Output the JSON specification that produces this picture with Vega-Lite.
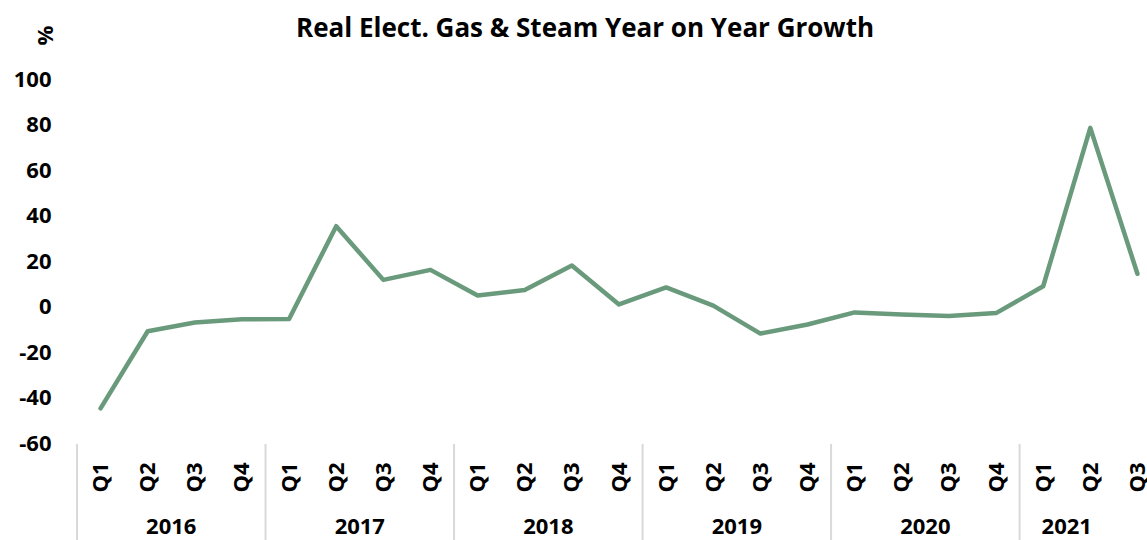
{
  "$schema": "https://vega.github.io/schema/vega-lite/v6.json",
  "width": 1084,
  "height": 364,
  "autosize": {"type": "none"},
  "padding": {"left": 77, "top": 79, "right": 0, "bottom": 97},
  "background": "white",
  "config": {"view": {"stroke": null}, "font": "Open Sans"},
  "title": {
    "text": "Real Elect. Gas & Steam Year on Year Growth",
    "font": "Open Sans",
    "fontSize": 26,
    "fontWeight": "bold",
    "color": "#000000",
    "anchor": "middle",
    "frame": "group",
    "dx": -34,
    "offset": -17
  },
  "datasets": {
    "series": [
      {"idx": 0, "year": "2016", "quarter": "Q1", "value": -44.8},
      {"idx": 1, "year": "2016", "quarter": "Q2", "value": -10.9},
      {"idx": 2, "year": "2016", "quarter": "Q3", "value": -7.0},
      {"idx": 3, "year": "2016", "quarter": "Q4", "value": -5.6},
      {"idx": 4, "year": "2017", "quarter": "Q1", "value": -5.5},
      {"idx": 5, "year": "2017", "quarter": "Q2", "value": 35.3},
      {"idx": 6, "year": "2017", "quarter": "Q3", "value": 11.7},
      {"idx": 7, "year": "2017", "quarter": "Q4", "value": 16.1},
      {"idx": 8, "year": "2018", "quarter": "Q1", "value": 4.8},
      {"idx": 9, "year": "2018", "quarter": "Q2", "value": 7.3},
      {"idx": 10, "year": "2018", "quarter": "Q3", "value": 18.0},
      {"idx": 11, "year": "2018", "quarter": "Q4", "value": 0.9},
      {"idx": 12, "year": "2019", "quarter": "Q1", "value": 8.4},
      {"idx": 13, "year": "2019", "quarter": "Q2", "value": 0.4},
      {"idx": 14, "year": "2019", "quarter": "Q3", "value": -11.9},
      {"idx": 15, "year": "2019", "quarter": "Q4", "value": -7.9},
      {"idx": 16, "year": "2020", "quarter": "Q1", "value": -2.6},
      {"idx": 17, "year": "2020", "quarter": "Q2", "value": -3.5},
      {"idx": 18, "year": "2020", "quarter": "Q3", "value": -4.2},
      {"idx": 19, "year": "2020", "quarter": "Q4", "value": -2.9},
      {"idx": 20, "year": "2021", "quarter": "Q1", "value": 8.9},
      {"idx": 21, "year": "2021", "quarter": "Q2", "value": 78.5},
      {"idx": 22, "year": "2021", "quarter": "Q3", "value": 14.4}
    ],
    "years": [
      {"pos": 1.5, "year": "2016"},
      {"pos": 5.5, "year": "2017"},
      {"pos": 9.5, "year": "2018"},
      {"pos": 13.5, "year": "2019"},
      {"pos": 17.5, "year": "2020"},
      {"pos": 20.5, "year": "2021"}
    ],
    "separators": [
      {"pos": -0.5}, {"pos": 3.5}, {"pos": 7.5}, {"pos": 11.5}, {"pos": 15.5}, {"pos": 19.5}
    ]
  },
  "layer": [
    {
      "mark": {"type": "rule", "color": "#d9d9d9", "strokeWidth": 2},
      "encoding": {
        "y": {"datum": 0, "type": "quantitative"}
      }
    },
    {
      "data": {"name": "separators"},
      "mark": {"type": "rule", "color": "#d9d9d9", "strokeWidth": 2},
      "encoding": {
        "x": {"field": "pos", "type": "quantitative"},
        "y": {"datum": -60.4, "type": "quantitative"},
        "y2": {"datum": -103}
      }
    },
    {
      "data": {"name": "years"},
      "mark": {"type": "text", "font": "Open Sans", "fontSize": 22, "fontWeight": "bold", "color": "#000000", "baseline": "middle", "align": "center", "dy": 84},
      "encoding": {
        "x": {"field": "pos", "type": "quantitative"},
        "y": {"datum": -60, "type": "quantitative"},
        "text": {"field": "year"}
      }
    },
    {
      "data": {"name": "series"},
      "mark": {"type": "line", "color": "#6a9a7c", "strokeWidth": 4.5, "strokeCap": "round", "strokeJoin": "round"},
      "encoding": {
        "x": {
          "field": "idx",
          "type": "quantitative",
          "scale": {"domain": [-0.5, 22.5], "nice": false, "zero": false},
          "axis": {
            "values": [0,1,2,3,4,5,6,7,8,9,10,11,12,13,14,15,16,17,18,19,20,21,22],
            "labelExpr": "['Q1','Q2','Q3','Q4'][datum.value % 4]",
            "labelAngle": 270,
            "labelAlign": "right",
            "labelBaseline": "middle",
            "labelPadding": 19,
            "labelFont": "Open Sans",
            "labelFontSize": 22,
            "labelFontWeight": "bold",
            "labelColor": "#000000",
            "labelOverlap": false,
            "labelFlush": false,
            "ticks": false,
            "domain": false,
            "grid": false,
            "title": null
          }
        },
        "y": {
          "field": "value",
          "type": "quantitative",
          "scale": {"domain": [-60, 100], "nice": false, "zero": false},
          "axis": {
            "values": [-60, -40, -20, 0, 20, 40, 60, 80, 100],
            "labelExpr": "'' + datum.value",
            "labelFont": "Open Sans",
            "labelFontSize": 22,
            "labelFontWeight": "bold",
            "labelColor": "#000000",
            "labelPadding": 26,
            "ticks": false,
            "domain": false,
            "grid": false,
            "title": "%",
            "titleFont": "Open Sans",
            "titleFontSize": 22,
            "titleFontWeight": "bold",
            "titleColor": "#000000",
            "titleAngle": 270,
            "titleAlign": "center",
            "titleBaseline": "middle",
            "titleX": -32,
            "titleY": -44
          }
        }
      }
    }
  ]
}
